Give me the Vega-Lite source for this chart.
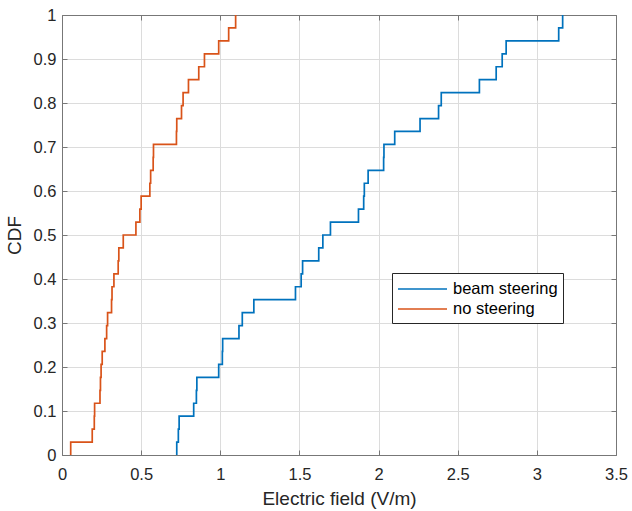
{
  "$schema": "https://vega.github.io/schema/vega-lite/v6.json",
  "autosize": "none",
  "width": 554,
  "height": 440,
  "padding": {"left": 62, "top": 15, "right": 16, "bottom": 56},
  "background": "white",
  "config": {
    "view": {"stroke": null},
    "font": "Liberation Sans",
    "axis": {
      "domainColor": "#777777",
      "tickColor": "#777777",
      "tickSize": -5,
      "labelColor": "#262626",
      "titleColor": "#262626",
      "labelFontSize": 16.5,
      "titleFontSize": 19,
      "titleFontWeight": "normal",
      "gridColor": "#dcdcdc",
      "labelFlush": false,
      "format": "~g"
    }
  },
  "data": {
    "values": [
      {"s": "beam steering", "x": 0.725, "p": 0},
      {"s": "beam steering", "x": 0.725, "p": 0.0294},
      {"s": "beam steering", "x": 0.735, "p": 0.0588},
      {"s": "beam steering", "x": 0.740, "p": 0.0882},
      {"s": "beam steering", "x": 0.832, "p": 0.1176},
      {"s": "beam steering", "x": 0.849, "p": 0.1471},
      {"s": "beam steering", "x": 0.852, "p": 0.1765},
      {"s": "beam steering", "x": 0.990, "p": 0.2059},
      {"s": "beam steering", "x": 1.013, "p": 0.2353},
      {"s": "beam steering", "x": 1.015, "p": 0.2647},
      {"s": "beam steering", "x": 1.118, "p": 0.2941},
      {"s": "beam steering", "x": 1.139, "p": 0.3235},
      {"s": "beam steering", "x": 1.212, "p": 0.3529},
      {"s": "beam steering", "x": 1.475, "p": 0.3824},
      {"s": "beam steering", "x": 1.511, "p": 0.4118},
      {"s": "beam steering", "x": 1.520, "p": 0.4412},
      {"s": "beam steering", "x": 1.622, "p": 0.4706},
      {"s": "beam steering", "x": 1.648, "p": 0.5},
      {"s": "beam steering", "x": 1.696, "p": 0.5294},
      {"s": "beam steering", "x": 1.873, "p": 0.5588},
      {"s": "beam steering", "x": 1.906, "p": 0.5882},
      {"s": "beam steering", "x": 1.910, "p": 0.6176},
      {"s": "beam steering", "x": 1.934, "p": 0.6471},
      {"s": "beam steering", "x": 2.032, "p": 0.6765},
      {"s": "beam steering", "x": 2.034, "p": 0.7059},
      {"s": "beam steering", "x": 2.102, "p": 0.7353},
      {"s": "beam steering", "x": 2.262, "p": 0.7647},
      {"s": "beam steering", "x": 2.379, "p": 0.7941},
      {"s": "beam steering", "x": 2.396, "p": 0.8235},
      {"s": "beam steering", "x": 2.637, "p": 0.8529},
      {"s": "beam steering", "x": 2.743, "p": 0.8824},
      {"s": "beam steering", "x": 2.781, "p": 0.9118},
      {"s": "beam steering", "x": 2.806, "p": 0.9412},
      {"s": "beam steering", "x": 3.138, "p": 0.9706},
      {"s": "beam steering", "x": 3.163, "p": 1},
      {"s": "no steering", "x": 0.055, "p": 0},
      {"s": "no steering", "x": 0.055, "p": 0.0294},
      {"s": "no steering", "x": 0.191, "p": 0.0588},
      {"s": "no steering", "x": 0.204, "p": 0.0882},
      {"s": "no steering", "x": 0.206, "p": 0.1176},
      {"s": "no steering", "x": 0.240, "p": 0.1471},
      {"s": "no steering", "x": 0.243, "p": 0.1765},
      {"s": "no steering", "x": 0.247, "p": 0.2059},
      {"s": "no steering", "x": 0.254, "p": 0.2353},
      {"s": "no steering", "x": 0.271, "p": 0.2647},
      {"s": "no steering", "x": 0.282, "p": 0.2941},
      {"s": "no steering", "x": 0.288, "p": 0.3235},
      {"s": "no steering", "x": 0.313, "p": 0.3529},
      {"s": "no steering", "x": 0.316, "p": 0.3824},
      {"s": "no steering", "x": 0.328, "p": 0.4118},
      {"s": "no steering", "x": 0.355, "p": 0.4412},
      {"s": "no steering", "x": 0.359, "p": 0.4706},
      {"s": "no steering", "x": 0.387, "p": 0.5},
      {"s": "no steering", "x": 0.467, "p": 0.5294},
      {"s": "no steering", "x": 0.492, "p": 0.5588},
      {"s": "no steering", "x": 0.500, "p": 0.5882},
      {"s": "no steering", "x": 0.555, "p": 0.6176},
      {"s": "no steering", "x": 0.560, "p": 0.6471},
      {"s": "no steering", "x": 0.576, "p": 0.6765},
      {"s": "no steering", "x": 0.578, "p": 0.7059},
      {"s": "no steering", "x": 0.723, "p": 0.7353},
      {"s": "no steering", "x": 0.725, "p": 0.7647},
      {"s": "no steering", "x": 0.755, "p": 0.7941},
      {"s": "no steering", "x": 0.765, "p": 0.8235},
      {"s": "no steering", "x": 0.799, "p": 0.8529},
      {"s": "no steering", "x": 0.864, "p": 0.8824},
      {"s": "no steering", "x": 0.900, "p": 0.9118},
      {"s": "no steering", "x": 0.990, "p": 0.9412},
      {"s": "no steering", "x": 1.053, "p": 0.9706},
      {"s": "no steering", "x": 1.097, "p": 1}
    ]
  },
  "layer": [
    {
      "transform": [{"filter": "datum.s === 'beam steering'"}],
      "mark": {"type": "line", "interpolate": "step-after", "strokeWidth": 1.7},
      "encoding": {
        "x": {
          "field": "x", "type": "quantitative",
          "scale": {"domain": [0, 3.5], "nice": false, "zero": false},
          "axis": {"orient": "bottom", "title": "Electric field (V/m)", "values": [0, 0.5, 1, 1.5, 2, 2.5, 3, 3.5], "grid": true, "labelPadding": 16, "titlePadding": 7}
        },
        "y": {
          "field": "p", "type": "quantitative",
          "scale": {"domain": [0, 1], "nice": false},
          "axis": {"orient": "left", "title": "CDF", "values": [0, 0.1, 0.2, 0.3, 0.4, 0.5, 0.6, 0.7, 0.8, 0.9, 1], "grid": true, "labelPadding": 11, "titlePadding": 9}
        },
        "color": {
          "field": "s", "type": "nominal",
          "scale": {"domain": ["beam steering", "no steering"], "range": ["#0072BD", "#D95319"]},
          "legend": {
            "title": null, "orient": "none", "legendX": 330, "legendY": 258,
            "symbolType": "M-1,0H3.9", "symbolSize": 400, "symbolStrokeWidth": 1.7,
            "labelOffset": 34,
            "labelFontSize": 16.5, "labelColor": "#000000",
            "strokeColor": "#262626", "fillColor": "white", "padding": 5,
            "rowPadding": 0
          }
        },
        "order": {"field": "p", "type": "quantitative"}
      }
    },
    {
      "transform": [{"filter": "datum.s === 'no steering'"}],
      "mark": {"type": "line", "interpolate": "step-after", "strokeWidth": 1.7},
      "encoding": {
        "x": {
          "field": "x", "type": "quantitative",
          "axis": {"orient": "top", "title": null, "labels": false, "grid": false, "values": [0, 0.5, 1, 1.5, 2, 2.5, 3, 3.5]}
        },
        "y": {
          "field": "p", "type": "quantitative",
          "axis": {"orient": "right", "title": null, "labels": false, "grid": false, "values": [0, 0.1, 0.2, 0.3, 0.4, 0.5, 0.6, 0.7, 0.8, 0.9, 1]}
        },
        "color": {"field": "s", "type": "nominal"},
        "order": {"field": "p", "type": "quantitative"}
      }
    }
  ],
  "resolve": {"axis": {"x": "independent", "y": "independent"}}
}
